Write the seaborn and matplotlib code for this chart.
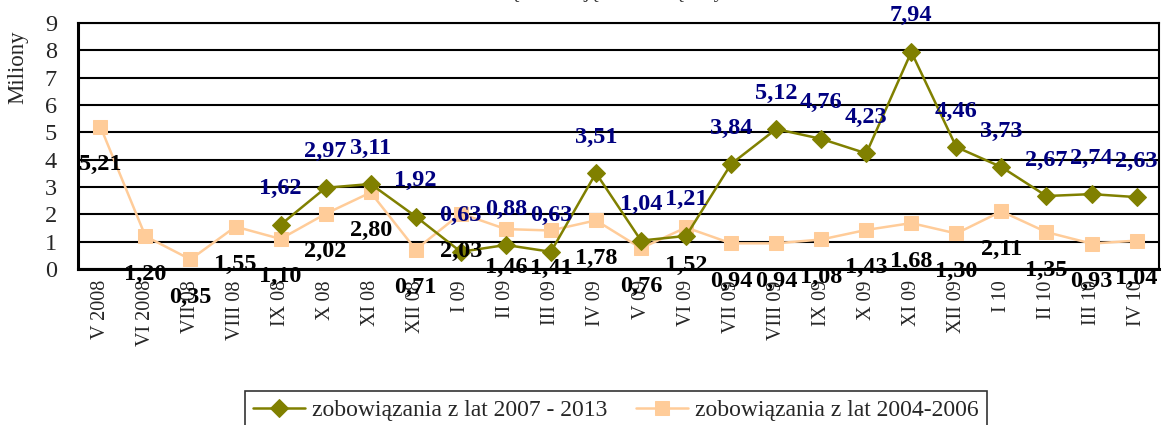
import pandas as pd
import seaborn as sns
import matplotlib.pyplot as plt
import numpy as np

# Data
months = ['V 2008', 'VI 2008', 'VII 08', 'VIII 08', 'IX 08', 'X 08', 'XI 08', 'XII 08',
          'I 09', 'II 09', 'III 09', 'IV 09', 'V 09', 'VI 09', 'VII 09', 'VIII 09',
          'IX 09', 'X 09', 'XI 09', 'XII 09', 'I 10', 'II 10', 'III 10', 'IV 10']
# zobowiązania z lat 2007 - 2013 (start in IX 08)
new_months = months[4:]
new_values = [1.62, 2.97, 3.11, 1.92, 0.63, 0.88, 0.63, 3.51, 1.04, 1.21,
              3.84, 5.12, 4.76, 4.23, 7.94, 4.46, 3.73, 2.67, 2.74, 2.63]
# zobowiązania z lat 2004-2006
old_values = [5.21, 1.20, 0.35, 1.55, 1.10, 2.02, 2.80, 0.71, 2.03, 1.46, 1.41, 1.78,
              0.76, 1.52, 0.94, 0.94, 1.08, 1.43, 1.68, 1.30, 2.11, 1.35, 0.93, 1.04]

label_new = 'zobowiązania z lat 2007 - 2013'
label_old = 'zobowiązania z lat 2004-2006'

pos = {m: i for i, m in enumerate(months)}
df_new = pd.DataFrame({'x': [pos[m] for m in new_months], 'y': new_values})
df_old = pd.DataFrame({'x': [pos[m] for m in months], 'y': old_values})

sns.set_style('white')
plt.rcParams['font.family'] = ['Liberation Serif', 'DejaVu Serif']

fig = plt.figure(figsize=(11.62, 4.25), dpi=100)
ax = fig.add_axes([0.067, 0.367, 0.9305, 0.579])

sns.lineplot(data=df_new, x='x', y='y', ax=ax, color='#808000', marker='D',
             markersize=9, markeredgecolor='#808000', linewidth=1.8, label=label_new,
             zorder=4)
sns.lineplot(data=df_old, x='x', y='y', ax=ax, color='#FFCC99', marker='s',
             markersize=9.5, markeredgecolor='#FFCC99', linewidth=1.8, label=label_old,
             zorder=3)

# data labels: blue above the 2007-2013 points, black below the 2004-2006 points
for x, y in zip(df_new['x'], df_new['y']):
    ax.annotate(f'{y:.2f}'.replace('.', ','), (x, y), xytext=(0, 36),
                textcoords='offset pixels', ha='center', va='center',
                fontsize=17.5, fontweight='bold', color='#000080', zorder=6,
                annotation_clip=False)
for x, y in zip(df_old['x'], df_old['y']):
    ax.annotate(f'{y:.2f}'.replace('.', ','), (x, y), xytext=(0, -38),
                textcoords='offset pixels', ha='center', va='center',
                fontsize=17.5, fontweight='bold', color='black', zorder=6,
                annotation_clip=False)

ax.set_ylim(0, 9)
ax.set_xlim(-0.5, len(months) - 0.5)
ax.set_yticks(range(0, 10))
ax.set_xticks(range(len(months)))
ax.set_xticklabels(months, rotation=90, fontsize=14.5)
ax.set_xticks(np.arange(-0.5, len(months), 1), minor=True)
ax.tick_params(axis='x', which='major', length=0, pad=8)
ax.tick_params(axis='x', which='minor', length=6, width=1.2, color='black', direction='out')
ax.tick_params(axis='y', length=7, width=1.2, color='black', direction='out',
               labelsize=17.5, pad=8)
ax.yaxis.grid(True, color='black', linewidth=1.5)
ax.set_axisbelow(True)
for s in ax.spines.values():
    s.set_color('black')
    s.set_linewidth(1.5)
ax.spines['left'].set_linewidth(2.2)
ax.spines['bottom'].set_linewidth(2.2)
ax.set_xlabel('')
ax.set_ylabel('Miliony', fontsize=16.5)
ax.yaxis.set_label_coords(-0.046, 0.82)

leg = ax.legend(loc='center', bbox_to_anchor=(0.53, 0.035), bbox_transform=fig.transFigure,
                ncol=2, fontsize=17, frameon=True, fancybox=False, edgecolor='black',
                handlelength=2.2, columnspacing=1.2, borderpad=0.35, handletextpad=0.3)
leg.get_frame().set_linewidth(1.2)

# title, mostly cut off at the top of the picture
fig.text(0.48, 1.0 + 3 / 425, 'Wartość zobowiązań w ujęciu miesięcznym', ha='center',
         va='baseline', fontsize=15, color='#333333')

fig.savefig('out.png', dpi=100)
